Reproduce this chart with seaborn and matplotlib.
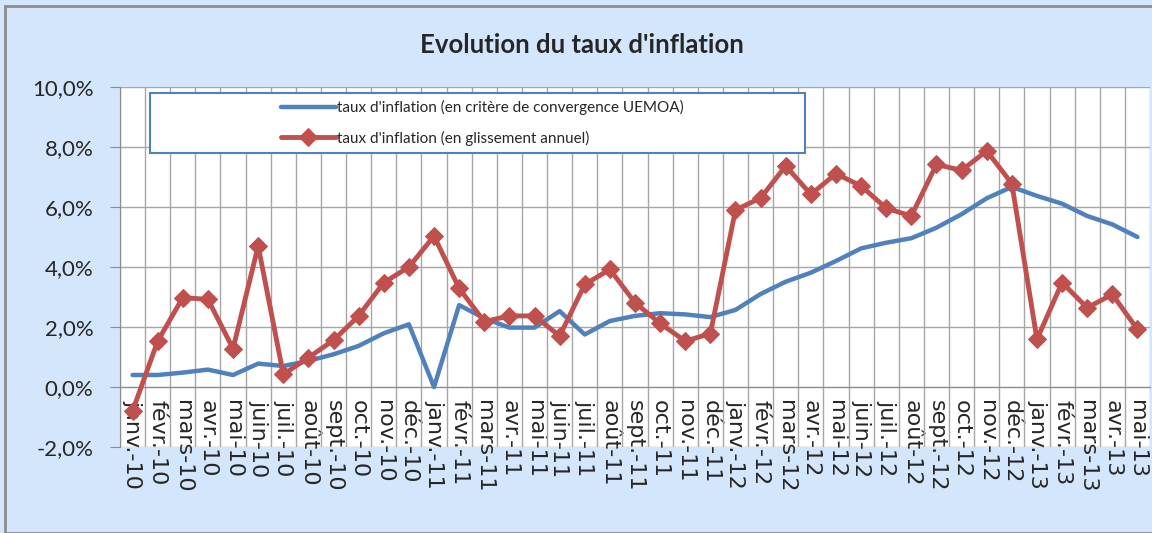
import pandas as pd
import matplotlib.pyplot as plt
import matplotlib.patches as mpatches
from matplotlib.ticker import FuncFormatter, MultipleLocator
import seaborn as sns
import numpy as np

#------------- DONNÉES -------------
mois = ["janv.-10", "févr.-10", "mars-10", "avr.-10", "mai-10", "juin-10", "juil.-10", "août-10",
        "sept.-10", "oct.-10", "nov.-10", "déc.-10",
        "janv.-11", "févr.-11", "mars-11", "avr.-11", "mai-11", "juin-11", "juil.-11", "août-11",
        "sept.-11", "oct.-11", "nov.-11", "déc.-11",
        "janv.-12", "févr.-12", "mars-12", "avr.-12", "mai-12", "juin-12", "juil.-12", "août-12",
        "sept.-12", "oct.-12", "nov.-12", "déc.-12",
        "janv.-13", "févr.-13", "mars-13", "avr.-13", "mai-13"]

# taux d'inflation (en critère de convergence UEMOA), en %
critere_uemoa = [0.4, 0.4, 0.48, 0.58, 0.4, 0.78, 0.7, 0.87, 1.09, 1.37, 1.79, 2.09,
                 0.0, 2.73, 2.29, 1.98, 1.98, 2.53, 1.75, 2.2, 2.37, 2.46, 2.42, 2.33,
                 2.57, 3.1, 3.51, 3.81, 4.2, 4.62, 4.81, 4.96, 5.31, 5.76, 6.29, 6.67,
                 6.37, 6.11, 5.7, 5.42, 5.0]

# taux d'inflation (en glissement annuel), en %
glissement = [-0.8, 1.53, 2.98, 2.92, 1.28, 4.7, 0.42, 0.98, 1.56, 2.37, 3.48, 4.0,
              5.03, 3.29, 2.18, 2.37, 2.37, 1.7, 3.42, 3.92, 2.81, 2.12, 1.53, 1.78,
              5.9, 6.3, 7.37, 6.42, 7.11, 6.7, 5.96, 5.7, 7.42, 7.22, 7.87, 6.78,
              1.59, 3.48, 2.64, 3.09, 1.92]

lab_uemoa = "taux d'inflation (en critère de convergence UEMOA)"
lab_gliss = "taux d'inflation (en glissement annuel)"

#------------- STYLE -------------
sns.set_style("white")
plt.rcParams["font.family"] = ["Lato", "DejaVu Sans"]

bleu = "#4F81BD"
rouge = "#C0504D"
fond = "#D4E6FB"
gris = "#8C8C8C"

fig = plt.figure(figsize=(11.52, 5.33), dpi=100, facecolor=fond)
ax = fig.add_axes([120 / 1152, 1 - 447 / 533, 1030 / 1152, 360 / 533])
ax.set_facecolor("white")

x = np.arange(len(mois))
sns.lineplot(x=x, y=critere_uemoa, ax=ax, color=bleu, linewidth=3.2, label=lab_uemoa, zorder=3)
sns.lineplot(x=x, y=glissement, ax=ax, color=rouge, linewidth=3.5, marker="D", markersize=9,
             markeredgecolor=rouge, label=lab_gliss, zorder=4)

#------------- AXES -------------
# l'axe horizontal croise en 0 (comme dans Excel)
ax.spines["bottom"].set_position(("data", 0))
for s in ["top", "right"]:
    ax.spines[s].set_visible(False)
ax.spines["left"].set_color(gris)
ax.spines["bottom"].set_color(gris)

ax.set_xlim(-0.5, len(mois) - 0.5)
ax.set_ylim(-2, 10)
ax.yaxis.set_major_locator(MultipleLocator(2))
ax.yaxis.set_major_formatter(FuncFormatter(lambda v, p: f"{v:.1f}%".replace(".", ",")))
ax.tick_params(axis="y", labelsize=16, length=7, color=gris, direction="out", left=True, pad=12)

ax.set_xticks(x)
ax.set_xticklabels(mois, rotation=270, fontsize=16, va="top", ha="center",
                   family=["DejaVu Sans"])
ax.xaxis.set_minor_locator(MultipleLocator(1, offset=0.5))
ax.tick_params(axis="x", which="major", length=0, pad=9)
ax.tick_params(axis="x", which="minor", length=0)

ax.grid(True, axis="y", which="major", color="#A6A6A6", linewidth=1)
ax.grid(True, axis="x", which="minor", color="#A6A6A6", linewidth=1)

#------------- LÉGENDE -------------
leg = ax.legend(loc="center", bbox_to_anchor=(0.352, 0.9), frameon=False, fontsize=11,
                handlelength=3.6, handletextpad=0.1, labelspacing=1.0)
boite = mpatches.Rectangle((0.029, 0.817), 0.636, 0.166, transform=ax.transAxes,
                           facecolor="white", edgecolor=bleu, linewidth=1.5, zorder=5)
ax.add_patch(boite)
leg.set_zorder(6)

#------------- TITRE ET CADRE -------------
fig.text(0.505, 1 - 45 / 533, "Evolution du taux d'inflation", ha="center", va="center",
         fontsize=18.5, fontweight="bold")
fig.patches.append(mpatches.Rectangle((5 / 1152, 0), 1, 1 - 6 / 533, transform=fig.transFigure,
                                      fill=False, edgecolor=gris, linewidth=2))

plt.savefig("out.png", dpi=100, facecolor=fond)
